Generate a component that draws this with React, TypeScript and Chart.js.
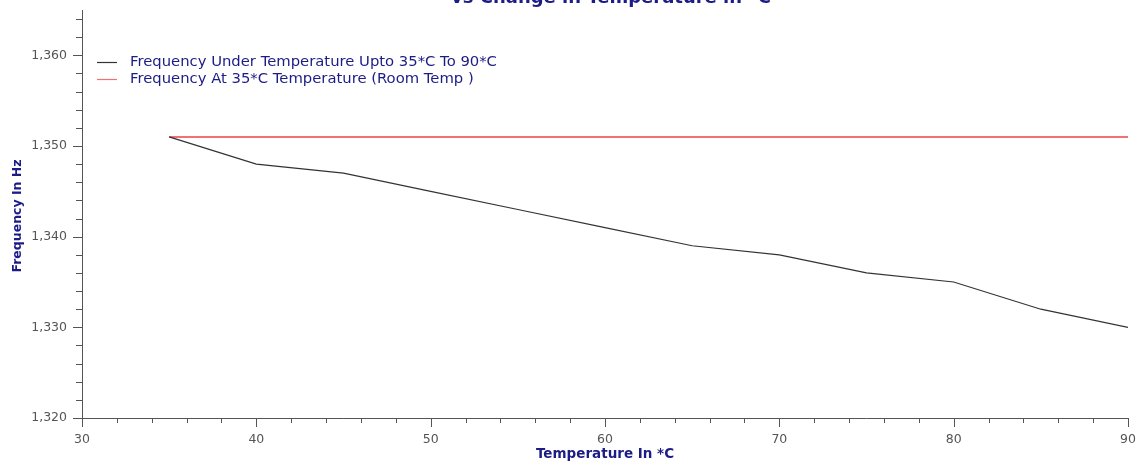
import { useEffect, useRef } from 'react';
import { Chart, registerables } from 'chart.js';

Chart.register(...registerables);

const temperatures = [35, 40, 45, 50, 55, 60, 65, 70, 75, 80, 85, 90];
const frequencyUnderTemp = [1351, 1348, 1347, 1345, 1343, 1341, 1339, 1338, 1336, 1335, 1332, 1330];
const roomTempX = [35, 90];
const roomTempFrequency = [1351, 1351];
const seriesLabels = [
  'Frequency Under Temperature Upto 35*C To 90*C',
  'Frequency At 35*C Temperature (Room Temp )',
];
const seriesColors = ['#333333', '#f07272'];
const chartTitle = 'vs Change in Temperature in *C';
const xAxisTitle = 'Temperature In *C';
const yAxisTitle = 'Frequency In Hz';
const xRange = [30, 90];
const yRange = [1320, 1365];
const minorStep = 2;
const majorStep = 10;

const navy = '#1c1c86';
const axisColor = '#555555';
const fontFamily = '"DejaVu Sans"';

const overlayPlugin = {
  id: 'overlay',
  afterDraw(chart: any) {
    const { ctx, chartArea, scales } = chart;
    const xs = scales.x;
    const ys = scales.y;
    ctx.save();
    ctx.strokeStyle = axisColor;
    ctx.lineWidth = 1;
    // axis lines
    ctx.beginPath();
    ctx.moveTo(chartArea.left + 0.5, chartArea.top);
    ctx.lineTo(chartArea.left + 0.5, chartArea.bottom + 0.5);
    ctx.lineTo(chartArea.right, chartArea.bottom + 0.5);
    ctx.stroke();
    // y ticks
    for (let v = yRange[0]; v <= yRange[1]; v += minorStep) {
      const py = Math.round(ys.getPixelForValue(v)) + 0.5;
      const len = v % majorStep === 0 ? 9 : 6;
      ctx.beginPath();
      ctx.moveTo(chartArea.left - len, py);
      ctx.lineTo(chartArea.left, py);
      ctx.stroke();
    }
    // x ticks
    for (let v = xRange[0]; v <= xRange[1]; v += minorStep) {
      const px = Math.round(xs.getPixelForValue(v)) + 0.5;
      const len = v % majorStep === 0 ? 9 : 5;
      ctx.beginPath();
      ctx.moveTo(px, chartArea.bottom);
      ctx.lineTo(px, chartArea.bottom + len);
      ctx.stroke();
    }
    // legend
    ctx.font = `14.8px ${fontFamily}`;
    ctx.textBaseline = 'middle';
    ctx.textAlign = 'left';
    seriesLabels.forEach((label, i) => {
      const y = 62 + i * 17;
      ctx.strokeStyle = seriesColors[i];
      ctx.lineWidth = 1.2;
      ctx.beginPath();
      ctx.moveTo(97, y + 0.5);
      ctx.lineTo(117, y + 0.5);
      ctx.stroke();
      ctx.fillStyle = navy;
      ctx.fillText(label, 130, y);
    });
    // axis titles
    ctx.fillStyle = navy;
    ctx.font = `bold 13.5px ${fontFamily}`;
    ctx.textAlign = 'center';
    ctx.fillText(xAxisTitle, 605, 454);
    ctx.font = `bold 12.5px ${fontFamily}`;
    ctx.save();
    ctx.translate(18, 216);
    ctx.rotate(-Math.PI / 2);
    ctx.fillText(yAxisTitle, 0, 0);
    ctx.restore();
    // clipped title
    ctx.font = `bold 18px ${fontFamily}`;
    ctx.textBaseline = 'alphabetic';
    ctx.fillText(chartTitle, 611, 3);
    ctx.restore();
  },
};

export default function App() {
  const ref = useRef<HTMLCanvasElement | null>(null);
  useEffect(() => {
    if (!ref.current) return;
    const chart = new Chart(ref.current, {
      type: 'scatter',
      data: {
        datasets: [
          {
            label: seriesLabels[0],
            data: temperatures.map((t, i) => ({ x: t, y: frequencyUnderTemp[i] })),
            showLine: true,
            borderColor: seriesColors[0],
            borderWidth: 1.2,
            pointRadius: 0,
            tension: 0,
          },
          {
            label: seriesLabels[1],
            data: roomTempX.map((t, i) => ({ x: t, y: roomTempFrequency[i] })),
            showLine: true,
            borderColor: seriesColors[1],
            borderWidth: 2,
            pointRadius: 0,
          },
        ],
      },
      options: {
        animation: false,
        responsive: false,
        layout: { padding: { left: 0, right: 12, top: 10, bottom: 0 } },
        plugins: { legend: { display: false }, tooltip: { enabled: false }, title: { display: false } },
        scales: {
          x: {
            type: 'linear',
            min: xRange[0],
            max: xRange[1],
            grid: { display: false },
            border: { display: false },
            ticks: {
              stepSize: minorStep,
              autoSkip: false,
              maxRotation: 0,
              padding: 6,
              color: '#555555',
              font: { family: fontFamily, size: 12.5 },
              callback: (v: any) => (Number(v) % majorStep === 0 ? String(v) : ''),
            },
            afterFit: (s: any) => {
              s.height = 48;
              s.paddingLeft = 0;
              s.paddingRight = 0;
            },
          },
          y: {
            type: 'linear',
            min: yRange[0],
            max: yRange[1],
            grid: { display: false },
            border: { display: false },
            ticks: {
              stepSize: minorStep,
              autoSkip: false,
              padding: 7,
              color: '#555555',
              font: { family: fontFamily, size: 12.5 },
              callback: (v: any) =>
                Number(v) % majorStep === 0 ? Number(v).toLocaleString('en-US') : '',
            },
            afterFit: (s: any) => {
              s.width = 82;
              s.paddingTop = 0;
              s.paddingBottom = 0;
            },
          },
        },
      },
      plugins: [overlayPlugin],
    });
    return () => chart.destroy();
  }, []);
  return (
    <div style={{ position: 'fixed', left: 0, top: 0, width: 1140, height: 466, overflow: 'hidden', background: '#fff' }}>
      <canvas ref={ref} width={1140} height={466} style={{ width: 1140, height: 466, display: 'block' }} />
    </div>
  );
}
